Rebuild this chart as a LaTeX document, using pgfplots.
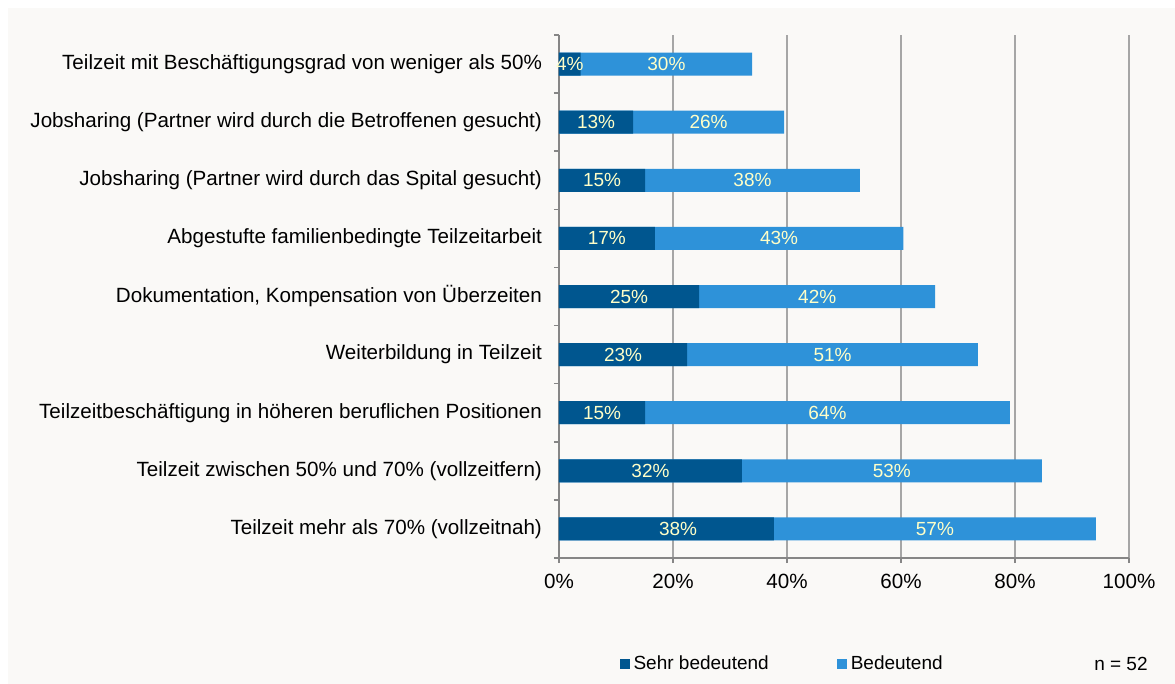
\documentclass[border=0pt]{standalone}
\usepackage{pgfplots}
\pgfplotsset{compat=1.18}
\usepackage{fontspec}
\setmainfont{Liberation Sans}
\definecolor{dark}{HTML}{00568F}
\definecolor{light}{HTML}{2E92D9}
\definecolor{bg}{HTML}{FAF9F7}
\definecolor{gridc}{HTML}{A6A6A6}
\definecolor{axc}{HTML}{868686}
\definecolor{lab}{HTML}{FFFFC8}
\newcommand\lblfont{\fontsize{9.5}{11}\selectfont}
\newcommand\tickfont{\fontsize{10.3}{12}\selectfont}
\begin{document}
\begin{tikzpicture}
\fill[white] (0,0) rectangle (587.5pt,-342pt);
\fill[bg] (4pt,-4pt) rectangle (587.5pt,-342pt);
\begin{axis}[
  at={(279.5pt,-279pt)}, anchor=south west,
  scale only axis, width=285pt, height=261.5pt,
  xmin=0, xmax=100, ymin=0.5, ymax=9.5,
  axis x line*=bottom, axis y line*=left,
  axis line style={axc, line width=0.8pt},
  xtick={0,20,...,100},
  xticklabel={\pgfmathprintnumber{\tick}\%},
  ytick={1,...,9},
  yticklabels={{Teilzeit mehr als 70\% (vollzeitnah)},
    {Teilzeit zwischen 50\% und 70\% (vollzeitfern)},
    {Teilzeitbeschäftigung in höheren beruflichen Positionen},
    {Weiterbildung in Teilzeit},
    {Dokumentation, Kompensation von Überzeiten},
    {Abgestufte familienbedingte Teilzeitarbeit},
    {Jobsharing (Partner wird durch das Spital gesucht)},
    {Jobsharing (Partner wird durch die Betroffenen gesucht)},
    {Teilzeit mit Beschäftigungsgrad von weniger als 50\%}},
  minor ytick={0.5,1.5,...,9.5},
  tick align=outside, major tick length=2.5pt, minor tick length=2.5pt,
  major y tick style={draw=none},
  tick style={axc, line width=0.8pt},
  xmajorgrids, grid style={gridc, line width=0.8pt},
  font=\lblfont,
  tick label style={font=\tickfont, text=black},
  /pgf/number format/assume math mode=true,
  yticklabel style={xshift=-2.5pt},
  xticklabel style={yshift=-2pt},
  legend style={at={(0.095,-0.203)}, anchor=west, draw=none, fill=none,
    font=\lblfont, legend columns=2,
    /tikz/every even column/.append style={column sep=32pt}},
  legend image code/.code={\fill[#1] (0pt,-2.5pt) rectangle (5pt,2.5pt);},
]
\addlegendimage{fill=dark, draw=none}
\addlegendentry{Sehr bedeutend}
\addlegendimage{fill=light, draw=none}
\addlegendentry{Bedeutend}
% total (Sehr bedeutend + Bedeutend)
\addplot[xbar, bar width=11.5pt, bar shift=0pt, fill=light, draw=none, forget plot]
  coordinates {(94.2,1) (84.7,2) (79.1,3) (73.5,4) (66.0,5) (60.4,6) (52.8,7) (39.5,8) (33.9,9)};
% Sehr bedeutend
\addplot[xbar, bar width=11.5pt, bar shift=0pt, fill=dark, draw=none, forget plot]
  coordinates {(37.7,1) (32.1,2) (15.1,3) (22.5,4) (24.6,5) (16.8,6) (15.1,7) (13.0,8) (3.8,9)};
% labels
\addplot[only marks, mark=none, forget plot, point meta=explicit symbolic,
  nodes near coords,
  every node near coord/.append style={anchor=center, text=lab, font=\lblfont}]
  coordinates {
  (20.9,1) [38\%] (65.95,1) [57\%]
  (16.05,2) [32\%] (58.4,2) [53\%]
  (7.55,3) [15\%] (47.1,3) [64\%]
  (11.25,4) [23\%] (48.0,4) [51\%]
  (12.3,5) [25\%] (45.3,5) [42\%]
  (8.4,6) [17\%] (38.6,6) [43\%]
  (7.55,7) [15\%] (33.95,7) [38\%]
  (6.5,8) [13\%] (26.25,8) [26\%]
  (1.9,9) [4\%] (18.85,9) [30\%]
  };
\end{axis}
\node[anchor=east, font=\lblfont, inner sep=0pt] at (574pt,-332pt) {n = 52};
\end{tikzpicture}
\end{document}
